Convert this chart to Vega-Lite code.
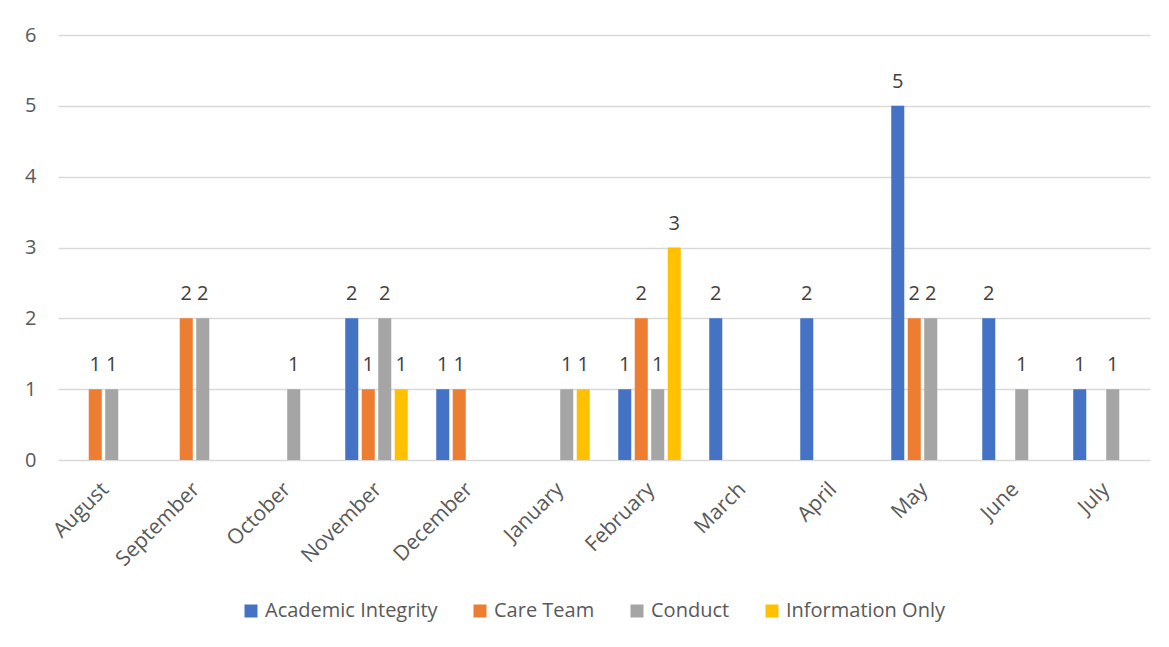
{
  "$schema": "https://vega.github.io/schema/vega-lite/v6.json",
  "width": 1092,
  "height": 425,
  "autosize": {"type": "none"},
  "padding": {"left": 58, "top": 35, "right": 19, "bottom": 187},
  "background": "white",
  "config": {
    "font": "Open Sans",
    "view": {"stroke": null},
    "axis": {"labelFont": "Open Sans", "labelColor": "#595959", "labelFontSize": 20}
  },
  "data": {
    "values": [
      {"month": "August", "series": "Academic Integrity", "value": 0},
      {"month": "August", "series": "Care Team", "value": 1},
      {"month": "August", "series": "Conduct", "value": 1},
      {"month": "August", "series": "Information Only", "value": 0},
      {"month": "September", "series": "Academic Integrity", "value": 0},
      {"month": "September", "series": "Care Team", "value": 2},
      {"month": "September", "series": "Conduct", "value": 2},
      {"month": "September", "series": "Information Only", "value": 0},
      {"month": "October", "series": "Academic Integrity", "value": 0},
      {"month": "October", "series": "Care Team", "value": 0},
      {"month": "October", "series": "Conduct", "value": 1},
      {"month": "October", "series": "Information Only", "value": 0},
      {"month": "November", "series": "Academic Integrity", "value": 2},
      {"month": "November", "series": "Care Team", "value": 1},
      {"month": "November", "series": "Conduct", "value": 2},
      {"month": "November", "series": "Information Only", "value": 1},
      {"month": "December", "series": "Academic Integrity", "value": 1},
      {"month": "December", "series": "Care Team", "value": 1},
      {"month": "December", "series": "Conduct", "value": 0},
      {"month": "December", "series": "Information Only", "value": 0},
      {"month": "January", "series": "Academic Integrity", "value": 0},
      {"month": "January", "series": "Care Team", "value": 0},
      {"month": "January", "series": "Conduct", "value": 1},
      {"month": "January", "series": "Information Only", "value": 1},
      {"month": "February", "series": "Academic Integrity", "value": 1},
      {"month": "February", "series": "Care Team", "value": 2},
      {"month": "February", "series": "Conduct", "value": 1},
      {"month": "February", "series": "Information Only", "value": 3},
      {"month": "March", "series": "Academic Integrity", "value": 2},
      {"month": "March", "series": "Care Team", "value": 0},
      {"month": "March", "series": "Conduct", "value": 0},
      {"month": "March", "series": "Information Only", "value": 0},
      {"month": "April", "series": "Academic Integrity", "value": 2},
      {"month": "April", "series": "Care Team", "value": 0},
      {"month": "April", "series": "Conduct", "value": 0},
      {"month": "April", "series": "Information Only", "value": 0},
      {"month": "May", "series": "Academic Integrity", "value": 5},
      {"month": "May", "series": "Care Team", "value": 2},
      {"month": "May", "series": "Conduct", "value": 2},
      {"month": "May", "series": "Information Only", "value": 0},
      {"month": "June", "series": "Academic Integrity", "value": 2},
      {"month": "June", "series": "Care Team", "value": 0},
      {"month": "June", "series": "Conduct", "value": 1},
      {"month": "June", "series": "Information Only", "value": 0},
      {"month": "July", "series": "Academic Integrity", "value": 1},
      {"month": "July", "series": "Care Team", "value": 0},
      {"month": "July", "series": "Conduct", "value": 1},
      {"month": "July", "series": "Information Only", "value": 0}
    ]
  },
  "encoding": {
    "x": {
      "field": "month",
      "type": "nominal",
      "sort": ["August","September","October","November","December","January","February","March","April","May","June","July"],
      "scale": {"paddingInner": 0.275, "paddingOuter": 0.1375},
      "axis": {
        "title": null, "labelAngle": -45, "labelAlign": "right", "labelBaseline": "middle",
        "labelPadding": 26, "labelOffset": 2, "ticks": false, "domain": false, "grid": false, "labelFontSize": 21
      }
    },
    "xOffset": {
      "field": "series",
      "type": "nominal",
      "sort": ["Academic Integrity","Care Team","Conduct","Information Only"],
      "scale": {"paddingInner": 0.21, "paddingOuter": 0.105}
    },
    "y": {
      "field": "value",
      "type": "quantitative",
      "scale": {"domain": [0, 6], "nice": false},
      "axis": {
        "title": null, "values": [0,1,2,3,4,5,6], "domain": false, "ticks": false, "labelOverlap": false,
        "labelPadding": 22, "grid": true, "gridColor": "#d9d9d9", "gridWidth": 1.5
      }
    }
  },
  "layer": [
    {
      "mark": {"type": "bar"},
      "encoding": {
        "color": {
          "field": "series",
          "type": "nominal",
          "sort": ["Academic Integrity","Care Team","Conduct","Information Only"],
          "scale": {
            "domain": ["Academic Integrity","Care Team","Conduct","Information Only"],
            "range": ["#4472C4","#ED7D31","#A5A5A5","#FFC000"]
          },
          "legend": {
            "title": null, "orient": "none", "direction": "horizontal",
            "legendX": 183, "legendY": 566,
            "symbolType": "square", "symbolSize": 169, "symbolStrokeWidth": 0,
            "labelFont": "Open Sans", "labelFontSize": 20, "labelColor": "#595959",
            "labelOffset": 4, "columnPadding": 32, "labelLimit": 400
          }
        }
      }
    },
    {
      "transform": [{"filter": "datum.value > 0"}],
      "mark": {"type": "text", "baseline": "alphabetic", "dy": -18, "fontSize": 20, "color": "#404040", "font": "Open Sans"},
      "encoding": {"text": {"field": "value", "type": "quantitative"}}
    }
  ]
}
